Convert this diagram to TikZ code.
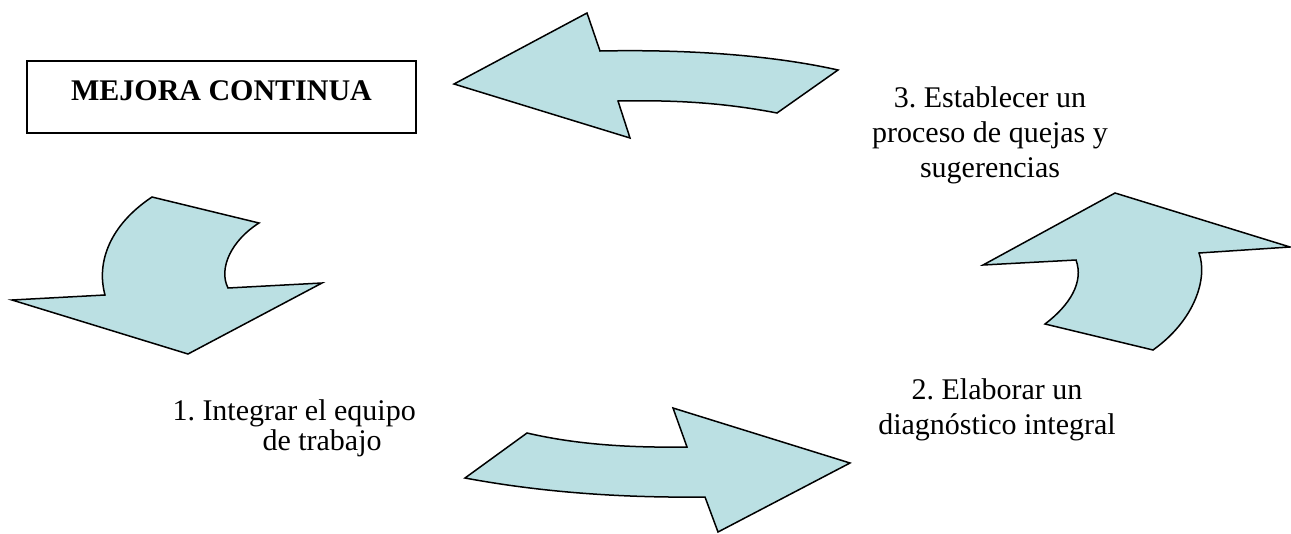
\documentclass[tikz,border=0pt]{standalone}
\usepackage{fontspec}
\setmainfont{Liberation Serif}
\usepackage{tikz}
\usetikzlibrary{calc}
\frenchspacing
\definecolor{flecha}{RGB}{187,224,227}
\tikzstyle{bigarrow}=[draw=black,fill=flecha,line width=.6pt,line join=miter]
\tikzstyle{paso}=[inner sep=0pt,font=\fontsize{12}{14}\selectfont]

\begin{document}
\begin{tikzpicture}[x=.4pt,y=-.4pt]
	\useasboundingbox (0,0) rectangle (1291,533);
	\node[draw,line width=.6pt,inner xsep=0pt,inner ysep=0pt,minimum width=155.6pt,text height=15.6pt,text depth=13.2pt,font=\fontsize{12}{14}\selectfont\bfseries] (MC) at (221.5,97) {MEJORA CONTINUA};
	% arriba, hacia la izquierda
	\draw[bigarrow] (454,84) -- (587,13) -- (600,51) .. controls (700,49) and (780,57) .. (838,70)
		-- (777,113) .. controls (720,102) and (670,100) .. (618,101) -- (630,138) -- cycle;
	% izquierda, hacia abajo
	\draw[bigarrow] (152,197) -- (259,223) .. controls (232,240) and (218,268) .. (228,288)
		-- (322,283) -- (188,354) -- (12,300) -- (105,295) .. controls (96,262) and (110,225) .. cycle;
	% abajo, hacia la derecha
	\draw[bigarrow] (465,478) -- (527,433) .. controls (570,443) and (620,448) .. (687,447)
		-- (673,408) -- (850,463) -- (718,532) -- (705,497) .. controls (620,498) and (540,492) .. cycle;
	% derecha, hacia arriba
	\draw[bigarrow] (1115,193) -- (1290,247) -- (1199,253) .. controls (1208,278) and (1195,320) .. (1153,350)
		-- (1045,324) .. controls (1070,305) and (1084,282) .. (1076,260) -- (983,265) -- cycle;
	\node[paso,align=left,anchor=base west] (P1) at (172,450) {1. Integrar el equipo\\[-2pt]\hspace*{36pt}de trabajo};
	\node[paso,align=center,anchor=base] (P2) at (997,434) {2. Elaborar un\\diagnóstico integral};
	\node[paso,align=center,anchor=base] (P3) at (990,177) {3. Establecer un\\proceso de quejas y\\sugerencias};
\end{tikzpicture}
\end{document}
